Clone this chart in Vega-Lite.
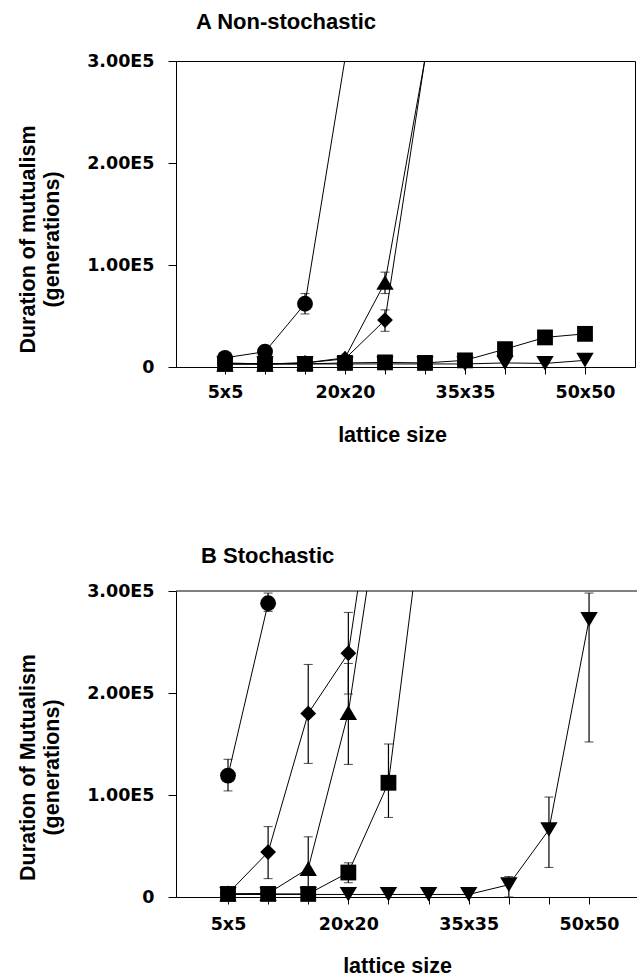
{
  "$schema": "https://vega.github.io/schema/vega-lite/v6.json",
  "padding": {"left": 16, "top": 10, "right": 0, "bottom": 0},
  "background": "white",
  "datasets": {
    "A": [
      {"series": "circle", "n": 5, "v": 9000},
      {"series": "circle", "n": 10, "v": 15000},
      {"series": "circle", "n": 15, "v": 62000, "lo": 52000, "hi": 72000},
      {"series": "circle", "n": 20, "v": 302000},
      {"series": "diamond", "n": 5, "v": 4000},
      {"series": "diamond", "n": 10, "v": 3000},
      {"series": "diamond", "n": 15, "v": 4000},
      {"series": "diamond", "n": 20, "v": 8000},
      {"series": "diamond", "n": 25, "v": 46000, "lo": 35000, "hi": 56000},
      {"series": "diamond", "n": 30, "v": 302000},
      {"series": "triangle", "n": 5, "v": 3000},
      {"series": "triangle", "n": 10, "v": 3000},
      {"series": "triangle", "n": 15, "v": 4000},
      {"series": "triangle", "n": 20, "v": 9000},
      {"series": "triangle", "n": 25, "v": 83000, "lo": 72000, "hi": 93000},
      {"series": "triangle", "n": 30, "v": 302000},
      {"series": "square", "n": 5, "v": 3000},
      {"series": "square", "n": 10, "v": 3000},
      {"series": "square", "n": 15, "v": 3000},
      {"series": "square", "n": 20, "v": 4000},
      {"series": "square", "n": 25, "v": 4500},
      {"series": "square", "n": 30, "v": 4000},
      {"series": "square", "n": 35, "v": 6500},
      {"series": "square", "n": 40, "v": 17500},
      {"series": "square", "n": 45, "v": 29000},
      {"series": "square", "n": 50, "v": 32500},
      {"series": "tridown", "n": 5, "v": 3000},
      {"series": "tridown", "n": 10, "v": 3000},
      {"series": "tridown", "n": 15, "v": 3000},
      {"series": "tridown", "n": 20, "v": 3000},
      {"series": "tridown", "n": 25, "v": 3000},
      {"series": "tridown", "n": 30, "v": 3000},
      {"series": "tridown", "n": 35, "v": 3000},
      {"series": "tridown", "n": 40, "v": 4000},
      {"series": "tridown", "n": 45, "v": 3500},
      {"series": "tridown", "n": 50, "v": 6500}
    ],
    "B": [
      {"series": "circle", "n": 5, "v": 119000, "lo": 104000, "hi": 135000},
      {"series": "circle", "n": 10, "v": 288000, "lo": 280000, "hi": 298000},
      {"series": "diamond", "n": 5, "v": 3500},
      {"series": "diamond", "n": 10, "v": 44000, "lo": 18000, "hi": 69000},
      {"series": "diamond", "n": 15, "v": 180000, "lo": 131000, "hi": 228000},
      {"series": "diamond", "n": 20, "v": 239000, "lo": 199000, "hi": 279000},
      {"series": "diamond", "n": 25, "v": 503000},
      {"series": "triangle", "n": 5, "v": 3000},
      {"series": "triangle", "n": 10, "v": 3500},
      {"series": "triangle", "n": 15, "v": 28000, "lo": 500, "hi": 59000},
      {"series": "triangle", "n": 20, "v": 181000, "lo": 130000, "hi": 229000},
      {"series": "triangle", "n": 25, "v": 440000},
      {"series": "square", "n": 5, "v": 3000},
      {"series": "square", "n": 10, "v": 3000},
      {"series": "square", "n": 15, "v": 3000},
      {"series": "square", "n": 20, "v": 24000, "lo": 14000, "hi": 33500},
      {"series": "square", "n": 25, "v": 112000, "lo": 78000, "hi": 150000},
      {"series": "square", "n": 30, "v": 422000},
      {"series": "tridown", "n": 5, "v": 2500},
      {"series": "tridown", "n": 10, "v": 2500},
      {"series": "tridown", "n": 15, "v": 2500},
      {"series": "tridown", "n": 20, "v": 2500},
      {"series": "tridown", "n": 25, "v": 2500},
      {"series": "tridown", "n": 30, "v": 2500},
      {"series": "tridown", "n": 35, "v": 2500},
      {"series": "tridown", "n": 40, "v": 12000, "lo": 0, "hi": 20000},
      {"series": "tridown", "n": 45, "v": 66000, "lo": 29000, "hi": 98000},
      {"series": "tridown", "n": 50, "v": 272000, "lo": 152000, "hi": 298000}
    ]
  },
  "config": {
    "font": "Liberation Sans",
    "axis": {
      "grid": false,
      "domainColor": "black",
      "domainWidth": 1,
      "tickColor": "black",
      "tickWidth": 1,
      "labelColor": "black",
      "labelFont": "DejaVu Sans",
      "labelFontWeight": "bold",
      "labelFontSize": 17.5,
      "titleColor": "black",
      "titleFont": "Liberation Sans",
      "titleFontWeight": "bold",
      "titleFontSize": 21.5
    },
    "title": {"color": "black", "font": "Liberation Sans", "fontWeight": "bold", "fontSize": 22}
  },
  "bounds": "flush",
  "spacing": 224,
  "resolve": {"scale": {"x": "independent", "y": "independent", "shape": "independent"}},
  "vconcat": [
    {
      "data": {"name": "A"},
      "width": 459,
      "height": 306,
      "view": {"stroke": "black", "strokeWidth": 1},
      "title": {"text": "A  Non-stochastic", "anchor": "start", "frame": "group", "dx": 20, "offset": 1, "baseline": "alphabetic"},
      "layer": [
        {
          "mark": {"type": "line", "color": "black", "strokeWidth": 1, "clip": true},
          "encoding": {
            "x": {"field": "n", "type": "quantitative", "scale": {"domain": [-1.125, 56.25], "nice": false, "zero": false},
              "axis": {"values": [5, 10, 15, 20, 25, 30, 35, 40, 45, 50], "labelExpr": "indexof([5, 20, 35, 50], datum.value) >= 0 ? datum.value + 'x' + datum.value : ''", "title": "lattice size", "titleX": 216, "titleY": 74, "titleBaseline": "alphabetic", "tickSize": 7, "labelPadding": 9, "labelFlush": false, "labelOverlap": false}},
            "y": {"field": "v", "type": "quantitative", "scale": {"domain": [0, 300000], "nice": false},
              "axis": {"values": [0, 100000, 200000, 300000], "labelExpr": "datum.value == 0 ? '0' : format(datum.value / 100000, '.2f') + 'E5'", "title": ["Duration of mutualism", "(generations)"], "titleX": -142, "titleY": 178, "titleBaseline": "alphabetic", "titleAlign": "center", "titleLineHeight": 24, "tickSize": 8, "labelPadding": 14, "labelFlush": false}},
            "detail": {"field": "series"},
            "order": {"field": "n"}
          }
        },
        {
          "transform": [{"filter": "isValid(datum.lo)"}],
          "mark": {"type": "errorbar", "color": "black", "ticks": {"size": 9, "color": "black", "strokeWidth": 1.2}, "rule": {"color": "black", "strokeWidth": 1.2}},
          "encoding": {
            "x": {"field": "n", "type": "quantitative", "scale": {"domain": [-1.125, 56.25], "nice": false, "zero": false}, "title": "lattice size"},
            "y": {"field": "lo", "type": "quantitative", "scale": {"domain": [0, 300000], "nice": false}, "title": ["Duration of mutualism", "(generations)"]},
            "y2": {"field": "hi"}
          }
        },
        {
          "transform": [{"filter": "datum.v <= 300000"}],
          "mark": {"type": "point", "filled": true, "color": "black", "opacity": 1, "size": 250},
          "encoding": {
            "x": {"field": "n", "type": "quantitative", "scale": {"domain": [-1.125, 56.25], "nice": false, "zero": false}, "title": "lattice size"},
            "y": {"field": "v", "type": "quantitative", "scale": {"domain": [0, 300000], "nice": false}, "title": ["Duration of mutualism", "(generations)"]},
            "shape": {"field": "series", "type": "nominal", "scale": {"domain": ["circle", "diamond", "triangle", "square", "tridown"], "range": ["circle", "diamond", "M0,-0.9L1.1,0.95L-1.1,0.95Z", "square", "M0,0.9L1.1,-0.95L-1.1,-0.95Z"]}, "legend": null}
          }
        }
      ]
    },
    {
      "data": {"name": "B"},
      "width": 462,
      "height": 306,
      "view": {"stroke": null},
      "title": {"text": "B  Stochastic", "anchor": "start", "frame": "group", "dx": 25, "offset": 0, "dy": 2.5, "baseline": "alphabetic"},
      "layer": [
        {
          "mark": {"type": "line", "color": "black", "strokeWidth": 1, "clip": true},
          "encoding": {
            "x": {"field": "n", "type": "quantitative", "scale": {"domain": [-1.48, 56.1], "nice": false, "zero": false},
              "axis": {"values": [5, 10, 15, 20, 25, 30, 35, 40, 45, 50], "labelExpr": "indexof([5, 20, 35, 50], datum.value) >= 0 ? datum.value + 'x' + datum.value : ''", "title": "lattice size", "titleX": 221, "titleY": 75, "titleBaseline": "alphabetic", "tickSize": 7, "labelPadding": 11, "labelFlush": false, "labelOverlap": false}},
            "y": {"field": "v", "type": "quantitative", "scale": {"domain": [0, 300000], "nice": false},
              "axis": {"values": [0, 100000, 200000, 300000], "labelExpr": "datum.value == 0 ? '0' : format(datum.value / 100000, '.2f') + 'E5'", "title": ["Duration of Mutualism", "(generations)"], "titleX": -142, "titleY": 176, "titleBaseline": "alphabetic", "titleAlign": "center", "titleLineHeight": 24, "tickSize": 8, "labelPadding": 14, "labelFlush": false}},
            "detail": {"field": "series"},
            "order": {"field": "n"}
          }
        },
        {
          "data": {"values": [{}]},
          "mark": {"type": "rule", "color": "black", "strokeWidth": 1},
          "encoding": {
            "y": {"datum": 300000, "type": "quantitative", "scale": {"domain": [0, 300000], "nice": false}}
          }
        },
        {
          "transform": [{"filter": "isValid(datum.lo)"}],
          "mark": {"type": "errorbar", "color": "black", "ticks": {"size": 9, "color": "black", "strokeWidth": 1.2}, "rule": {"color": "black", "strokeWidth": 1.2}},
          "encoding": {
            "x": {"field": "n", "type": "quantitative", "scale": {"domain": [-1.48, 56.1], "nice": false, "zero": false}, "title": "lattice size"},
            "y": {"field": "lo", "type": "quantitative", "scale": {"domain": [0, 300000], "nice": false}, "title": ["Duration of Mutualism", "(generations)"]},
            "y2": {"field": "hi"}
          }
        },
        {
          "transform": [{"filter": "datum.v <= 300000"}],
          "mark": {"type": "point", "filled": true, "color": "black", "opacity": 1, "size": 250},
          "encoding": {
            "x": {"field": "n", "type": "quantitative", "scale": {"domain": [-1.48, 56.1], "nice": false, "zero": false}, "title": "lattice size"},
            "y": {"field": "v", "type": "quantitative", "scale": {"domain": [0, 300000], "nice": false}, "title": ["Duration of Mutualism", "(generations)"]},
            "shape": {"field": "series", "type": "nominal", "scale": {"domain": ["circle", "diamond", "triangle", "square", "tridown"], "range": ["circle", "diamond", "M0,-0.9L1.1,0.95L-1.1,0.95Z", "square", "M0,0.9L1.1,-0.95L-1.1,-0.95Z"]}, "legend": null}
          }
        }
      ]
    }
  ]
}
